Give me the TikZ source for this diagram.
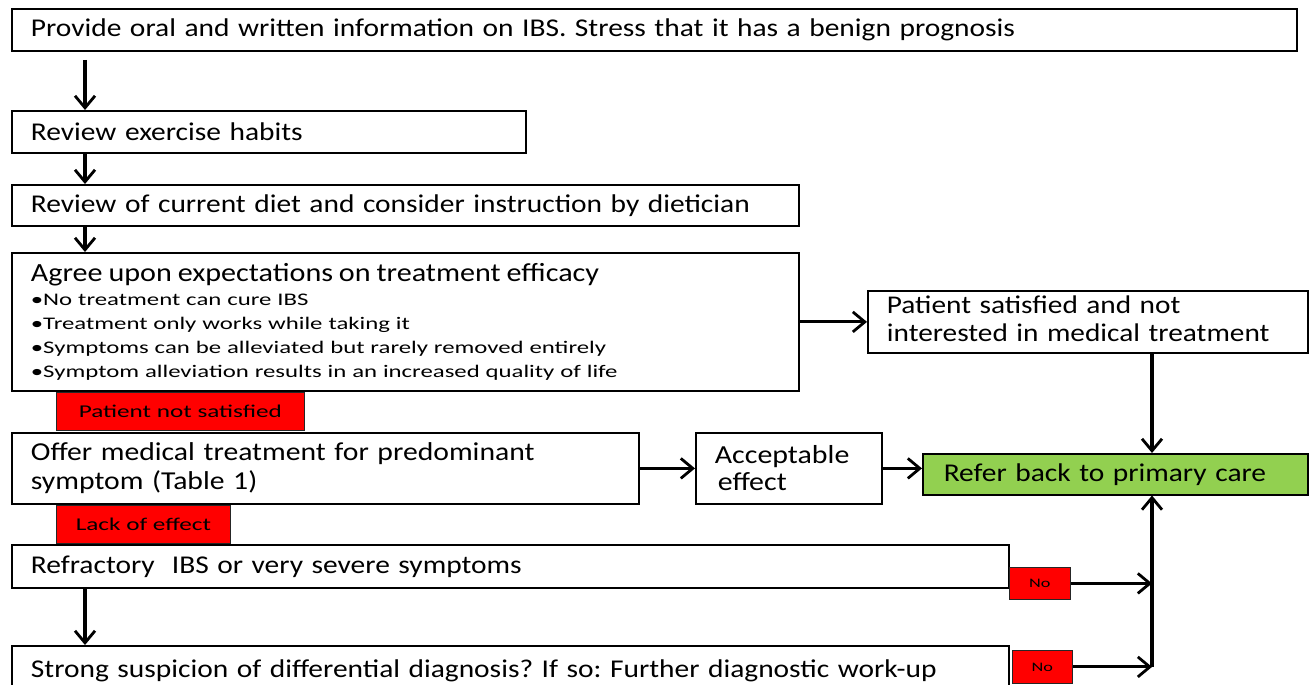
\documentclass[tikz,border=0pt]{standalone}
\usepackage{fontspec}
\setmainfont{Carlito}[FakeStretch=1.15]
\newfontfamily\labfont{Carlito}[FakeStretch=1.4]
\usetikzlibrary{arrows.meta}
\definecolor{redlab}{HTML}{FF0000}
\definecolor{greenbox}{HTML}{92D050}
\frenchspacing
\begin{document}
\begin{tikzpicture}[x=1pt,y=-1pt,
  bx/.style={draw, line width=1.8pt, anchor=north west, inner xsep=19pt, inner ysep=0pt, align=left, font=\fontsize{25.6}{29}\selectfont},
  lab/.style={draw=black!85, line width=0.8pt, fill=redlab, anchor=north west, inner sep=0pt, align=center, font=\labfont\fontsize{18}{22}\selectfont},
  nolab/.style={lab, minimum width=61pt, minimum height=32pt, font=\labfont\fontsize{13}{15}\selectfont},
  arr/.style={line width=3.1pt, -{Straight Barb[length=12pt,width=20pt,line width=2.8pt]}}
]
\clip (0,0) rectangle (1309,685);
\fill[white] (0,0) rectangle (1309,685);
\coordinate (xl) at (85,0);
\coordinate (xr) at (1152,0);

\node[bx, text width=1247pt, minimum height=42pt] (A) at (11,8) {Provide oral and written information on IBS. Stress that it has a benign prognosis};
\node[bx, text width=476pt, minimum height=42pt] (B) at (11,110) {Review exercise habits};
\node[bx, text width=749pt, minimum height=41pt] (C) at (11,184) {Review of current diet and consider instruction by dietician};
\node[bx, text width=749pt, minimum height=138pt, font=\labfont\fontsize{17.7}{24}\selectfont] (D) at (11,252) {{\rmfamily\fontsize{26.2}{24}\selectfont Agree upon expectations on treatment efficacy}\\
\textbullet No treatment can cure IBS\\
\textbullet Treatment only works while taking it\\
\textbullet Symptoms can be alleviated but rarely removed entirely\\
\textbullet Symptom alleviation results in an increased quality of life};
\node[lab, minimum width=248pt, minimum height=38pt] (R1) at (56,392) {Patient not satisfied};
\node[bx, text width=589pt, minimum height=71pt, font=\fontsize{25.8}{29}\selectfont] (E) at (11,432) {Offer medical treatment for predominant\\symptom (Table 1)};
\node[lab, minimum width=174pt, minimum height=38pt] (R2) at (56,505) {Lack of effect};
\node[bx, text width=959pt, minimum height=43pt] (F) at (11,544) {Refractory \ IBS or very severe symptoms};
\node[bx, text width=959pt, minimum height=50pt] (G) at (11,645) {Strong suspicion of differential diagnosis? If so: Further diagnostic work-up};
\node[nolab] (N1) at (1009,567) {No};
\node[nolab, minimum width=60pt, minimum height=33pt] (N2) at (1012,650) {No};

\node[bx, text width=402pt, minimum height=62pt, font=\fontsize{25.5}{28}\selectfont] (H) at (867,290) {\raisebox{4pt}{\begin{tabular}{@{}l@{}}Patient satisfied and not\\interested in medical treatment\end{tabular}}};
\node[bx, text width=148pt, minimum height=71pt, font=\fontsize{26}{27}\selectfont] (J) at (695,432) {Acceptable\\\hspace*{3pt}effect};
\node[bx, fill=greenbox, line width=1.5pt, inner xsep=21pt, text width=343pt, minimum height=41pt] (I) at (922,453) {Refer back to primary care};

\draw[arr] ([yshift=-8pt]A.south -| xl) -- (B.north -| xl);
\draw[arr] (B.south -| xl) -- (C.north -| xl);
\draw[arr] (C.south -| xl) -- (D.north -| xl);
\draw[arr] (F.south -| xl) -- (G.north -| xl);
\draw[arr] (D.east) -- (H.west);
\draw[arr] (E.east) -- (J.west);
\draw[arr] (J.east) -- (J.east -| I.west);
\draw[arr] (H.south -| xr) -- (I.north -| xr);
\draw[arr] (N1.east) -- (N1.east -| xr);
\draw[arr] (N2.east) -- (N2.east -| xr);
\draw[arr] (N2.east -| xr) -- (I.south -| xr);
\end{tikzpicture}
\end{document}
